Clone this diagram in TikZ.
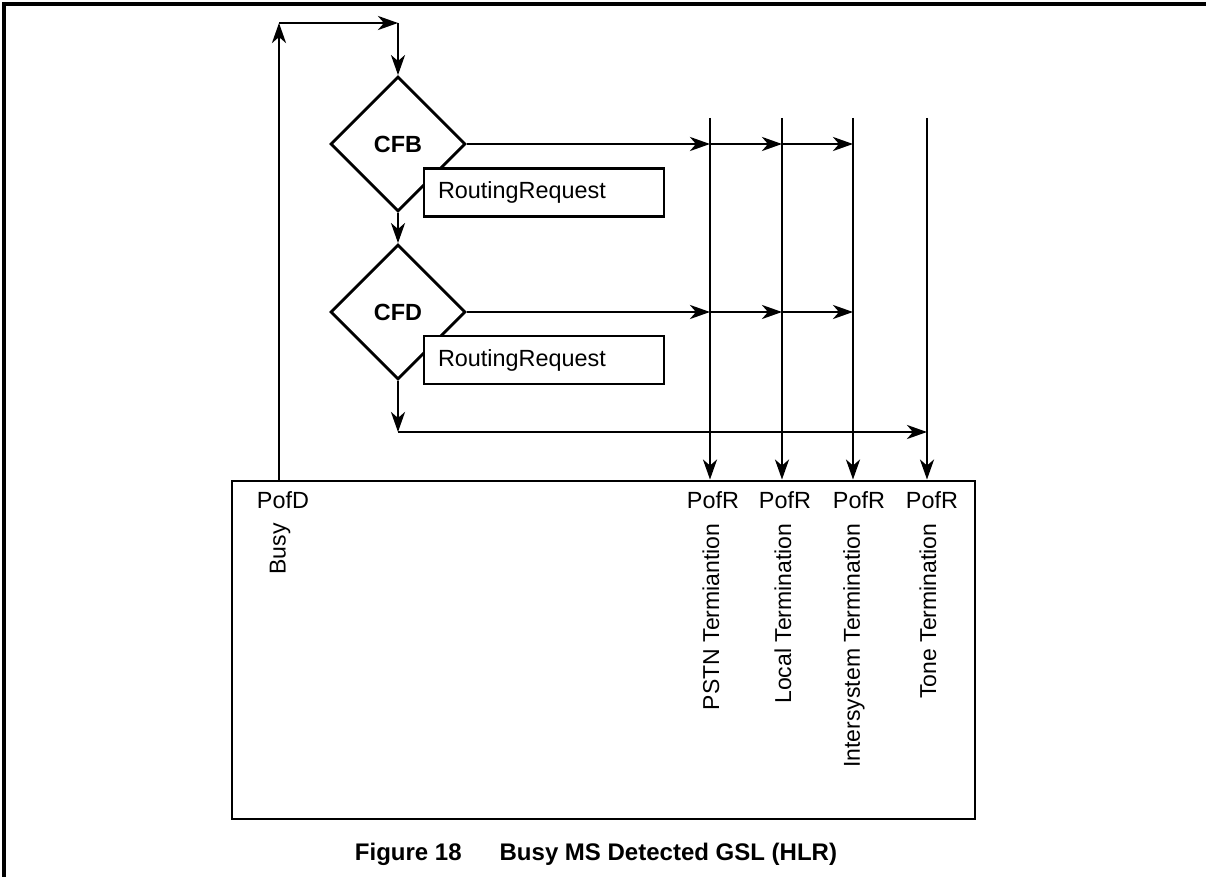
\documentclass[tikz,border=0pt]{standalone}
\usepackage{fontspec}
\setmainfont{Liberation Sans}
\usetikzlibrary{arrows.meta,positioning,shapes.geometric}

\begin{document}
\begin{tikzpicture}[
  x=0.5pt, y=-0.5pt,
  line width=1.45pt,
  >={Stealth[length=10pt,width=7pt,inset=3pt]},
  decision/.style={draw, diamond, aspect=1, inner sep=0pt, minimum width=67.5pt, minimum height=67.5pt, font=\fontsize{11.7}{14}\selectfont\bfseries},
  msgbox/.style={draw, fill=white, rectangle, inner xsep=7pt, inner ysep=0pt, text width=106pt, minimum height=24pt, align=left, font=\fontsize{11.7}{14}\selectfont},
  port/.style={inner sep=0pt, font=\fontsize{11.7}{14}\selectfont},
  term/.style={inner sep=0pt, rotate=90, anchor=east, font=\fontsize{11.5}{13}\selectfont}
]
\useasboundingbox (0,0) rectangle (1206,877);
\draw[line width=2pt] (1206,4) -- (4,4) -- (4,877);

% decisions and routing requests
\node[decision] (cfb) at (398,144) {CFB};
\node[msgbox] (rrb) at (544,192.5) {RoutingRequest};
\node[decision] (cfd) at (398,312) {CFD};
\node[msgbox] (rrd) at (544,360) {RoutingRequest};

% GSL box with its points
\node[draw, inner sep=0pt, minimum width=371.5pt, minimum height=169pt] (gsl) at (603.5,650) {};
\node[port] (pofd) at (283,500) {PofD};
\node[port] (pofr1) at (713,500) {PofR};
\node[port] (pofr2) at (785,500) {PofR};
\node[port] (pofr3) at (859,500) {PofR};
\node[port] (pofr4) at (932,500) {PofR};
\node[term] (busy) at (280,522) {Busy};
\node[term] (pstnt) at (711,522) {PSTN Termiantion};
\node[term] (localt) at (783,522) {Local Termination};
\node[term] (intert) at (854,522) {Intersystem Termination};
\node[term] (tonet) at (928,522) {Tone Termination};

\node[font=\fontsize{12}{14}\selectfont\bfseries] (caption) at (596,854) {Figure 18\hspace{19pt}Busy MS Detected GSL (HLR)};

% line tops and corners
\coordinate (pstn) at (710,118);
\coordinate (local) at (782,118);
\coordinate (inter) at (853,118);
\coordinate (tone) at (927,118);
\coordinate (busytop) at (279,23);
\coordinate (looptop) at (398,23);
\coordinate (cfdout) at (398,432);

\draw[->] (busytop |- gsl.north) -- (busytop);
\draw[->] (busytop) -- (looptop);
\draw[->] (looptop) -- (cfb.north);
\draw[->] (cfb.south) -- (cfd.north);
\draw[->] (cfd.south) -- (cfdout);
\draw[->] (cfdout) -- (cfdout -| tone);

\draw[->] (cfb.east) -- (cfb.east -| pstn);
\draw[->] (cfb.east -| pstn) -- (cfb.east -| local);
\draw[->] (cfb.east -| local) -- (cfb.east -| inter);
\draw[->] (cfd.east) -- (cfd.east -| pstn);
\draw[->] (cfd.east -| pstn) -- (cfd.east -| local);
\draw[->] (cfd.east -| local) -- (cfd.east -| inter);

\draw[->] (pstn) -- (pstn |- gsl.north);
\draw[->] (local) -- (local |- gsl.north);
\draw[->] (inter) -- (inter |- gsl.north);
\draw[->] (tone) -- (tone |- gsl.north);
\end{tikzpicture}
\end{document}
